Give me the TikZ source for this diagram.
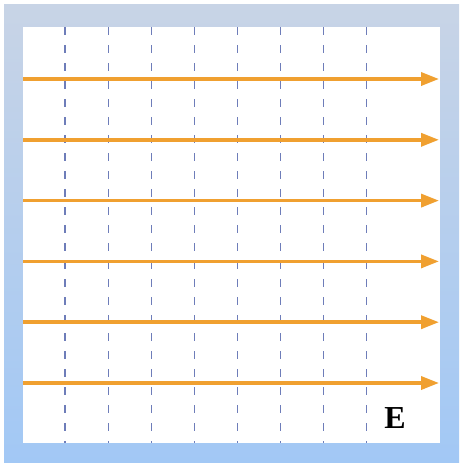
\documentclass[tikz,border=0pt]{standalone}
\usepackage{fontspec}
\newfontfamily\efont{Liberation Serif}
\usetikzlibrary{arrows.meta}
\begin{document}
\begin{tikzpicture}[x=1pt,y=-1pt,
  fieldline/.style={draw={rgb,255:red,240;green,160;blue,48}, line width=3.5pt, -{Triangle[length=18pt,width=13pt]}},
  gridline/.style={draw={rgb,255:red,110;green,125;blue,185}, line width=1.2pt, dash pattern=on 8pt off 10pt},
]
\useasboundingbox (0,0) rectangle (459,463);
\fill[white] (0,0) rectangle (459,463);
\shade[top color={rgb,255:red,200;green,212;blue,230}, bottom color={rgb,255:red,162;green,200;blue,245}] (4,4) rectangle (459,463);
\fill[white] (23,27) rectangle (440,443);
\foreach \i in {0,...,7} {
  \coordinate (t\i) at ({65+43.1*\i},27);
  \coordinate (b\i) at ({65+43.1*\i},443);
  \draw[gridline] (t\i) -- (b\i);
}
\foreach \j in {0,...,5} {
  \coordinate (l\j) at (23,{79+60.8*\j});
  \coordinate (r\j) at (439,{79+60.8*\j});
  \draw[fieldline] (l\j) -- (r\j);
}
\node[font=\efont\bfseries\fontsize{32}{32}\selectfont, inner sep=0pt] (E) at (395,418) {E};
\end{tikzpicture}
\end{document}
